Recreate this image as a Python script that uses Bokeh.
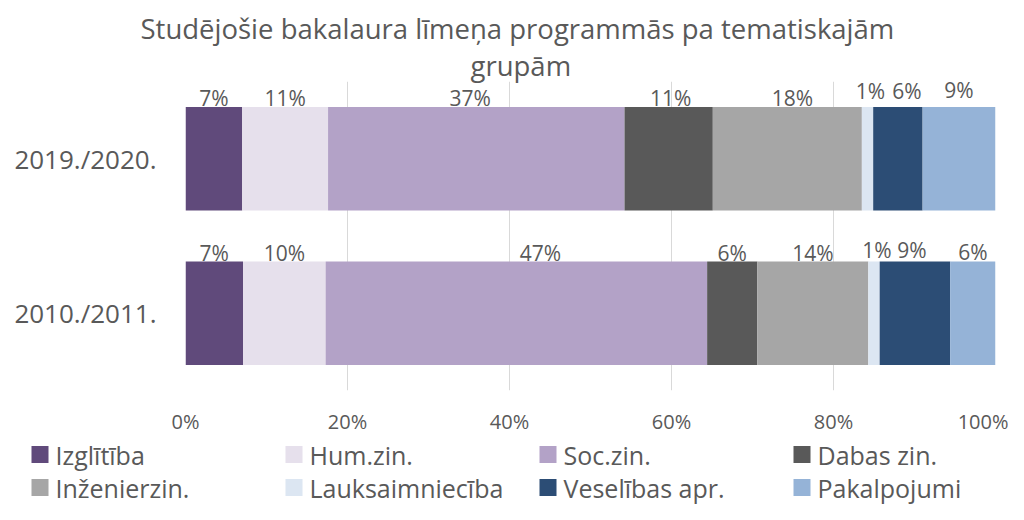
from bokeh.plotting import figure
from bokeh.layouts import column
from bokeh.models import (ColumnDataSource, Range1d, FactorRange, FixedTicker, PrintfTickFormatter, Title)
from bokeh.transform import dodge
from bokeh.core.properties import value
from bokeh.embed import file_html
from bokeh.resources import INLINE

# ---------------- data ----------------
years = ["2010./2011.", "2019./2020."]
categories = ["Izglītība", "Hum.zin.", "Soc.zin.", "Dabas zin.", "Inženierzin.",
              "Lauksaimniecība", "Veselības apr.", "Pakalpojumi"]
share_2010 = [7.1, 10.2, 47.1, 6.2, 13.7, 1.4, 8.7, 5.6]
share_2019 = [7.0, 10.6, 36.6, 10.9, 18.4, 1.4, 6.1, 9.0]
colors = ["#604A7B", "#E6E0EC", "#B3A2C7", "#595959", "#A6A6A6", "#DCE6F2", "#2C4D75", "#95B3D7"]
x_ticks = [0, 20, 40, 60, 80, 100]
title_lines = ["Studējošie bakalaura līmeņa programmās pa tematiskajām", "grupām"]

FONT = "Open Sans"
TXT = "#595959"
W = 1008
H_MAIN = 437
H_LEG = 67
BAR_H = 0.67

shares = {"2010./2011.": share_2010, "2019./2020.": share_2019}
data = {"year": years}
for i, c in enumerate(categories):
    data[c] = [shares[y][i] for y in years]
src = ColumnDataSource(data)

p = figure(width=W, height=H_MAIN, output_backend="svg", toolbar_location=None,
           x_range=Range1d(0, 100), y_range=FactorRange(*years),
           min_border_left=185, min_border_right=13, min_border_top=81,
           min_border_bottom=H_MAIN - 391)
p.outline_line_color = None
p.frame_align = False

p.hbar_stack(categories, y="year", height=BAR_H, color=colors, source=src, line_width=0)

# data-label nudges in pixels (dx, dy; negative dy = up), as placed in the original
nudge = {("2019./2020.", "Soc.zin."): (-6, -9), ("2010./2011.", "Soc.zin."): (24, -8),
         ("2019./2020.", "Lauksaimniecība"): (3, -16), ("2019./2020.", "Veselības apr."): (9, -16),
         ("2019./2020.", "Pakalpojumi"): (0, -17), ("2010./2011.", "Lauksaimniecība"): (3, -11),
         ("2010./2011.", "Veselības apr."): (-3, -11), ("2010./2011.", "Pakalpojumi"): (0, -9),
         ("2019./2020.", "Dabas zin."): (2, -9), ("2019./2020.", "Inženierzin."): (5, -9)}

lx, ly, lt, lxo, lyo = [], [], [], [], []
for y in years:
    left = 0.0
    for c, v in zip(categories, shares[y]):
        lx.append(left + v / 2)
        ly.append(y)
        lt.append(f"{round(v):d}%")
        dx, dy = nudge.get((y, c), (0, -9 if y == "2019./2020." else -8))
        lxo.append(dx)
        lyo.append(dy)
        left += v
lsrc = ColumnDataSource(dict(x=lx, y=ly, t=lt, xo=lxo, yo=lyo))
p.text(x="x", y=dodge("y", BAR_H / 2, range=p.y_range), text="t", x_offset="xo", y_offset="yo",
       source=lsrc, text_font=value(FONT), text_font_size="21px", text_color=TXT,
       text_align="center", text_baseline="middle")

# axes
p.xaxis.ticker = FixedTicker(ticks=x_ticks)
p.xaxis.formatter = PrintfTickFormatter(format="%d%%")
p.xaxis.axis_line_color = None
p.xaxis.major_tick_line_color = None
p.xaxis.minor_tick_line_color = None
p.xaxis.major_tick_out = 0
p.xaxis.major_label_standoff = 17
p.xaxis.major_label_text_font = FONT
p.xaxis.major_label_text_font_size = "20px"
p.xaxis.major_label_text_color = TXT

p.yaxis.axis_line_color = None
p.yaxis.major_tick_line_color = None
p.yaxis.minor_tick_line_color = None
p.yaxis.major_tick_out = 0
p.yaxis.major_label_standoff = 29
p.yaxis.major_label_text_font = FONT
p.yaxis.major_label_text_font_size = "26px"
p.yaxis.major_label_text_color = TXT

p.xgrid.grid_line_color = "#D9D9D9"
p.xgrid.grid_line_width = 1
p.ygrid.grid_line_color = None

# title (two lines, centred on the chart area as in the original)
p.add_layout(Title(text=title_lines[1], align="left", offset=285, standoff=-5,
                   text_font=FONT, text_font_size="27.5px", text_font_style="normal",
                   text_color=TXT), "above")
p.add_layout(Title(text=title_lines[0], align="left", offset=-45, standoff=2,
                   text_font=FONT, text_font_size="27.5px", text_font_style="normal",
                   text_color=TXT), "above")

# legend strip (4 columns x 2 rows)
lg = figure(width=W, height=H_LEG, output_backend="svg", toolbar_location=None,
            x_range=Range1d(0, W), y_range=Range1d(H_LEG, 0),
            x_axis_type=None, y_axis_type=None, min_border=0)
lg.outline_line_color = None
lg.grid.grid_line_color = None
lg.frame_align = False
ncol = 4
gx, gy, tx = [], [], []
for i, c in enumerate(categories):
    col, row = i % ncol, i // ncol
    x0 = 31 + col * 254
    gx.append(x0 + 8.5)
    tx.append(x0 + 24)
    gy.append(17 + row * 33)
lgsrc = ColumnDataSource(dict(gx=gx, gy=gy, tx=tx, label=categories, color=colors))
lg.rect(x="gx", y="gy", width=17, height=17, width_units="screen", height_units="screen",
        fill_color="color", line_color=None, source=lgsrc)
lg.text(x="tx", y="gy", text="label", source=lgsrc, text_font=value(FONT), text_font_size="25px",
        text_color=TXT, text_align="left", text_baseline="middle")

layout = column(p, lg, spacing=0)
open("out.html", "w").write(file_html(layout, INLINE))
